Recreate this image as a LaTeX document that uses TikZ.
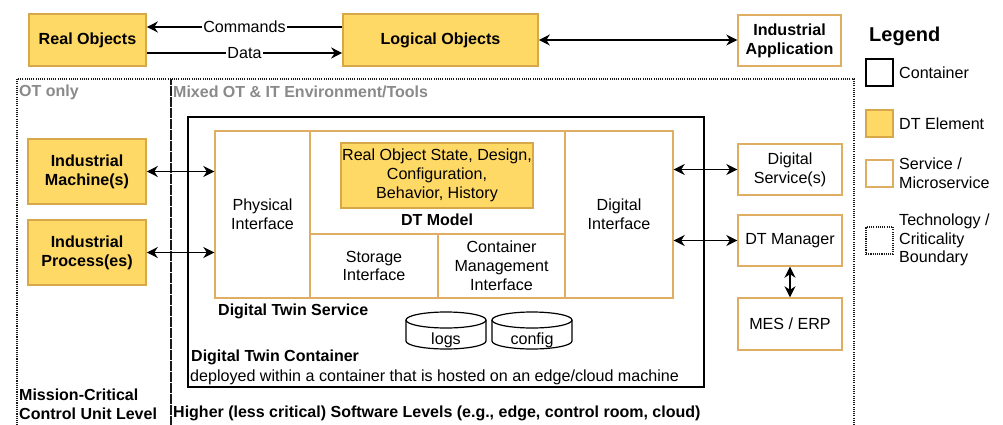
\documentclass[tikz,border=0pt]{standalone}
\usepackage{fontspec}
\setmainfont{Liberation Sans}
\usetikzlibrary{arrows.meta}
\definecolor{dtfill}{HTML}{FFD966}
\definecolor{dtline}{HTML}{D6A84A}
\definecolor{svline}{HTML}{E0AE62}
\definecolor{graytxt}{HTML}{8A8A8A}
\definecolor{bnd}{HTML}{1A1A1A}
\begin{document}
\begin{tikzpicture}[x=1pt,y=-1pt,
  every node/.style={font=\fontsize{16.1}{18.8}\selectfont, inner sep=0pt, align=center},
  dtel/.style={draw=dtline, fill=dtfill, line width=1.6pt},
  svc/.style={draw=svline, line width=1.4pt},
  cont/.style={draw=black, line width=2.6pt},
  bound/.style={draw=bnd, line width=1.1pt, dash pattern=on 1.1pt off 1.1pt},
  conn/.style={line width=1.3pt, {Stealth[length=11pt,width=11pt,inset=3.5pt]}-{Stealth[length=11pt,width=11pt,inset=3.5pt]}},
  oneway/.style={line width=1.3pt, -{Stealth[length=11pt,width=11pt,inset=3.5pt]}},
  cyl/.style={draw=black, line width=1.2pt, fill=white},
  graylbl/.style={anchor=west, text=graytxt, font=\fontsize{16}{18.8}\selectfont\bfseries},
  boldlbl/.style={anchor=west, font=\fontsize{16}{18.8}\selectfont\bfseries, align=left},
  plainlbl/.style={anchor=west, align=left}
]
\useasboundingbox[fill=white] (0,0) rectangle (1003,425);

% boundaries
\draw[bound] (17,79) rectangle (171,432);
\draw[bound] (171,79) rectangle (854,432);
\node[graylbl] (otonly) at (19,92) {OT only};
\node[graylbl] (mixed) at (173,92) {Mixed OT \& IT Environment/Tools};
\node[boldlbl] (mcl) at (19,404) {Mission-Critical\\Control Unit Level};
\node[boldlbl] (higher) at (173,413) {Higher (less critical) Software Levels (e.g., edge, control room, cloud)};

% top row
\node[dtel, minimum width=117pt, minimum height=52pt] (ro) at (87.5,40) {\bfseries Real Objects};
\node[dtel, minimum width=195pt, minimum height=52pt] (lo) at (440.5,40) {\bfseries Logical Objects};
\node[svc, minimum width=103pt, minimum height=51pt] (ia) at (789.5,40.5) {\bfseries Industrial\\\bfseries Application};
\draw[oneway] ([yshift=13pt]lo.west) -- node[fill=white, inner xsep=1pt, inner ysep=1pt] (cmd) {Commands} ([yshift=13pt]ro.east);
\draw[oneway] ([yshift=-13pt]ro.east) -- node[fill=white, inner xsep=1pt, inner ysep=1pt] (data) {Data} ([yshift=-13pt]lo.west);
\draw[conn] (lo.east) -- (lo.east -| ia.west);

% left OT boxes
\node[dtel, minimum width=118pt, minimum height=65pt] (im) at (87,171.5) {\bfseries Industrial\\\bfseries Machine(s)};
\node[dtel, minimum width=118pt, minimum height=65pt] (ip) at (87,252.5) {\bfseries Industrial\\\bfseries Process(es)};

% container
\node[cont, minimum width=516pt, minimum height=270pt] (dtc) at (446,252) {};
\node[svc, minimum width=95pt, minimum height=167pt] (pi) at (262.5,214.5) {Physical\\Interface};
\node[svc, minimum width=255pt, minimum height=103pt] (dtm) at (437.5,182.5) {};
\node[svc, minimum width=128pt, minimum height=64pt] (si) at (374,266) {Storage\\Interface};
\node[svc, minimum width=127pt, minimum height=64pt] (cmi) at (501.5,266) {Container\\Management\\Interface};
\node[svc, minimum width=108pt, minimum height=167pt] (di) at (619,214.5) {Digital\\Interface};
\node[dtel, minimum width=192pt, minimum height=65pt] (ros) at (437,175.5) {Real Object State, Design,\\Configuration,\\Behavior, History};
\node[font=\fontsize{16}{18.8}\selectfont\bfseries] (dtmodel) at (437,220) {DT Model};
\node[boldlbl] (dts) at (218,311) {Digital Twin Service};
\node[boldlbl] (dtcl) at (191,357) {Digital Twin Container};
\node[plainlbl] (deployed) at (190,377) {deployed within a container that is hosted on an edge/cloud machine};

% cylinders
\draw[cyl] (406,320) -- (406,341) arc[start angle=180, end angle=360, x radius=40pt, y radius=8pt] -- (486,320);
\draw[cyl] (446,320) ellipse [x radius=40pt, y radius=8pt];
\node (logs) at (446,340) {logs};
\draw[cyl] (492,320) -- (492,341) arc[start angle=180, end angle=360, x radius=40pt, y radius=8pt] -- (572,320);
\draw[cyl] (532,320) ellipse [x radius=40pt, y radius=8pt];
\node (config) at (532,340) {config};

% right boxes
\node[svc, minimum width=104pt, minimum height=51pt] (ds) at (790,169.5) {Digital\\Service(s)};
\node[svc, minimum width=104pt, minimum height=51pt] (mgr) at (790,240.5) {DT Manager};
\node[svc, minimum width=104pt, minimum height=52pt] (mes) at (790,324) {MES / ERP};

% connectors
\draw[conn] (im.east) -- (im.east -| pi.west);
\draw[conn] (ip.east) -- (ip.east -| pi.west);
\draw[conn] (ds.west) -- (ds.west -| di.east);
\draw[conn] (mgr.west) -- (mgr.west -| di.east);
\draw[conn] (mgr.south) -- (mes.north);

% legend
\node[anchor=west, font=\fontsize{20}{24}\selectfont\bfseries] (legend) at (869,36) {Legend};
\node[cont, minimum size=27pt] (lgc) at (879.5,72.5) {};
\node[plainlbl] (lgct) at (899,73) {Container};
\node[dtel, minimum size=27pt] (lgd) at (879.5,123.5) {};
\node[plainlbl] (lgdt) at (899,124) {DT Element};
\node[svc, minimum size=27pt] (lgs) at (879.5,173.5) {};
\node[plainlbl] (lgst) at (899,173.5) {Service /\\Microservice};
\node[bound, minimum size=27pt] (lgb) at (879.5,240.5) {};
\node[plainlbl] (lgbt) at (899,240) {Technology /\\Criticality\\Boundary};
\end{tikzpicture}
\end{document}
